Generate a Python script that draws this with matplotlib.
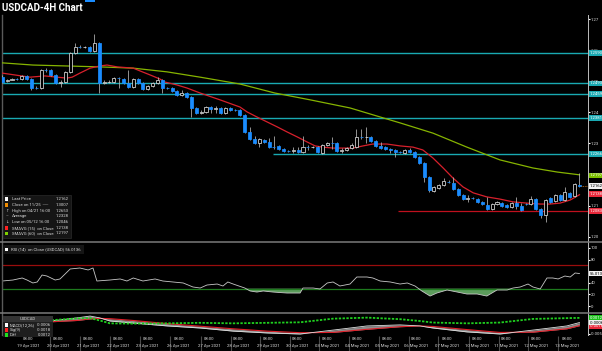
import numpy as np
import matplotlib
matplotlib.use("Agg")
import matplotlib.pyplot as plt
from matplotlib.patches import Rectangle
from matplotlib.lines import Line2D
import matplotlib.transforms as mtrans

plt.rcParams['font.family'] = ['Roboto', 'DejaVu Sans']

# ---------------- data (4H bars) ----------------
opens = [1.2514, 1.2501, 1.2504, 1.2507, 1.2507, 1.2517, 1.2507, 1.2478, 1.2478, 1.2536,
         1.2536, 1.2520, 1.2494, 1.2497, 1.2530, 1.2591, 1.2610, 1.2610, 1.2610, 1.2597,
         1.2623, 1.2494, 1.2497, 1.2497, 1.2510, 1.2507, 1.2494, 1.2481, 1.2507, 1.2494,
         1.2475, 1.2485, 1.2494, 1.2504, 1.2478, 1.2478, 1.2468, 1.2456, 1.2462, 1.2449,
         1.2414, 1.2398, 1.2401, 1.2417, 1.2411, 1.2414, 1.2398, 1.2414, 1.2407, 1.2407,
         1.2391, 1.2337, 1.2314, 1.2301, 1.2311, 1.2305, 1.2288, 1.2292, 1.2282, 1.2276,
         1.2276, 1.2279, 1.2272, 1.2288, 1.2288, 1.2288, 1.2269, 1.2295, 1.2301, 1.2301,
         1.2276, 1.2279, 1.2285, 1.2288, 1.2321, 1.2321, 1.2321, 1.2308, 1.2292, 1.2288,
         1.2282, 1.2279, 1.2272, 1.2269, 1.2279, 1.2272, 1.2256, 1.2237, 1.2192, 1.2147,
         1.2157, 1.2166, 1.2176, 1.2173, 1.2153, 1.2134, 1.2121, 1.2124, 1.2121, 1.2112,
         1.2102, 1.2089, 1.2105, 1.2108, 1.2102, 1.2095, 1.2108, 1.2099, 1.2105, 1.2105,
         1.2121, 1.2089, 1.2070, 1.2124, 1.2115, 1.2134, 1.2118, 1.2140, 1.2131, 1.2166]
closes = [1.2497, 1.2504, 1.2507, 1.2506, 1.2517, 1.2507, 1.2478, 1.2477, 1.2536, 1.2535,
          1.2520, 1.2494, 1.2497, 1.2530, 1.2591, 1.2610, 1.2609, 1.2611, 1.2597, 1.2623,
          1.2494, 1.2497, 1.2498, 1.2510, 1.2509, 1.2494, 1.2481, 1.2507, 1.2494, 1.2475,
          1.2485, 1.2494, 1.2504, 1.2478, 1.2477, 1.2468, 1.2456, 1.2462, 1.2449, 1.2414,
          1.2398, 1.2401, 1.2417, 1.2411, 1.2414, 1.2398, 1.2414, 1.2407, 1.2406, 1.2391,
          1.2337, 1.2314, 1.2301, 1.2314, 1.2305, 1.2288, 1.2287, 1.2282, 1.2276, 1.2275,
          1.2279, 1.2272, 1.2288, 1.2287, 1.2289, 1.2272, 1.2295, 1.2301, 1.2300, 1.2276,
          1.2279, 1.2285, 1.2295, 1.2321, 1.2320, 1.2322, 1.2308, 1.2292, 1.2285, 1.2282,
          1.2279, 1.2272, 1.2271, 1.2279, 1.2272, 1.2256, 1.2237, 1.2192, 1.2150, 1.2160,
          1.2166, 1.2179, 1.2175, 1.2153, 1.2134, 1.2121, 1.2124, 1.2123, 1.2112, 1.2105,
          1.2089, 1.2105, 1.2112, 1.2099, 1.2095, 1.2108, 1.2099, 1.2086, 1.2104, 1.2121,
          1.2089, 1.2070, 1.2118, 1.2112, 1.2134, 1.2118, 1.2144, 1.2128, 1.2169, 1.2162]
highs = [1.2520, 1.2507, 1.2510, 1.2510, 1.2520, 1.2520, 1.2510, 1.2485, 1.2539, 1.2542,
         1.2539, 1.2523, 1.2504, 1.2533, 1.2594, 1.2623, 1.2616, 1.2613, 1.2613, 1.2653,
         1.2626, 1.2504, 1.2504, 1.2514, 1.2514, 1.2510, 1.2536, 1.2510, 1.2510, 1.2497,
         1.2488, 1.2497, 1.2514, 1.2507, 1.2481, 1.2481, 1.2472, 1.2472, 1.2465, 1.2452,
         1.2417, 1.2407, 1.2420, 1.2420, 1.2420, 1.2417, 1.2417, 1.2417, 1.2411, 1.2411,
         1.2395, 1.2353, 1.2324, 1.2317, 1.2314, 1.2317, 1.2324, 1.2295, 1.2285, 1.2279,
         1.2288, 1.2288, 1.2324, 1.2295, 1.2292, 1.2292, 1.2298, 1.2305, 1.2321, 1.2305,
         1.2285, 1.2288, 1.2301, 1.2346, 1.2346, 1.2353, 1.2324, 1.2311, 1.2305, 1.2292,
         1.2285, 1.2282, 1.2276, 1.2282, 1.2285, 1.2276, 1.2260, 1.2240, 1.2195, 1.2163,
         1.2169, 1.2189, 1.2182, 1.2192, 1.2157, 1.2137, 1.2134, 1.2128, 1.2124, 1.2115,
         1.2128, 1.2108, 1.2115, 1.2112, 1.2105, 1.2112, 1.2128, 1.2108, 1.2108, 1.2131,
         1.2124, 1.2092, 1.2121, 1.2128, 1.2137, 1.2137, 1.2160, 1.2144, 1.2173, 1.2205]
lows = [1.2494, 1.2497, 1.2504, 1.2504, 1.2504, 1.2504, 1.2472, 1.2475, 1.2475, 1.2530,
        1.2517, 1.2491, 1.2481, 1.2494, 1.2526, 1.2587, 1.2607, 1.2607, 1.2594, 1.2594,
        1.2462, 1.2491, 1.2494, 1.2494, 1.2478, 1.2491, 1.2478, 1.2478, 1.2491, 1.2472,
        1.2472, 1.2481, 1.2491, 1.2462, 1.2475, 1.2465, 1.2452, 1.2452, 1.2446, 1.2385,
        1.2395, 1.2395, 1.2398, 1.2398, 1.2398, 1.2395, 1.2395, 1.2404, 1.2404, 1.2388,
        1.2333, 1.2311, 1.2298, 1.2288, 1.2301, 1.2285, 1.2282, 1.2279, 1.2272, 1.2272,
        1.2269, 1.2269, 1.2269, 1.2279, 1.2285, 1.2269, 1.2266, 1.2292, 1.2282, 1.2272,
        1.2269, 1.2276, 1.2282, 1.2285, 1.2314, 1.2301, 1.2305, 1.2288, 1.2282, 1.2279,
        1.2269, 1.2256, 1.2269, 1.2266, 1.2269, 1.2253, 1.2234, 1.2176, 1.2144, 1.2144,
        1.2153, 1.2163, 1.2173, 1.2150, 1.2131, 1.2118, 1.2112, 1.2121, 1.2108, 1.2102,
        1.2086, 1.2086, 1.2102, 1.2095, 1.2092, 1.2092, 1.2089, 1.2083, 1.2102, 1.2102,
        1.2086, 1.2060, 1.2046, 1.2108, 1.2112, 1.2115, 1.2115, 1.2124, 1.2128, 1.2160]

sma15_idx = [0, 5.7, 8.8, 11.3, 13.3, 14.4, 16.0, 18.1, 20.1, 21.6,
             23.7, 27.0, 28.4, 30.5, 32.5, 33.6, 36.0, 38.1, 40.8, 44.9,
             49.0, 50.5, 52.5, 54.6, 56.7, 58.7, 60.8, 62.8, 64.5, 66.1,
             68.2, 70.3, 72.3, 74.4, 76.4, 79.3, 82.0, 84.7, 86.7, 88.8,
             90.9, 92.9, 95.0, 97.1, 99.9, 102.6, 105.3, 108.2, 110.9, 112.9,
             115.0, 117.1, 119.0]
sma15_val = [1.2526, 1.2513, 1.2517, 1.2513, 1.2510, 1.2513, 1.2526, 1.2542, 1.2549, 1.2552,
             1.2546, 1.2542, 1.2533, 1.2520, 1.2507, 1.2497, 1.2488, 1.2478, 1.2462, 1.2440,
             1.2417, 1.2401, 1.2385, 1.2369, 1.2353, 1.2337, 1.2321, 1.2305, 1.2292, 1.2288,
             1.2285, 1.2285, 1.2285, 1.2292, 1.2298, 1.2298, 1.2292, 1.2288, 1.2279, 1.2253,
             1.2221, 1.2189, 1.2160, 1.2141, 1.2128, 1.2121, 1.2112, 1.2108, 1.2105, 1.2105,
             1.2108, 1.2118, 1.2135]
sma60_idx = [0, 6.3, 13.3, 20.2, 27.0, 34.0, 40.8, 49.0, 56.2, 63.5,
             71.7, 77.9, 82.0, 88.8, 95.8, 102.6, 109.4, 114.4, 119.0]
sma60_val = [1.2559, 1.2552, 1.2549, 1.2546, 1.2542, 1.2530, 1.2513, 1.2491, 1.2462, 1.2440,
             1.2414, 1.2385, 1.2366, 1.2333, 1.2288, 1.2247, 1.2221, 1.2208, 1.2199]

cyan_levels = [1.2590, 1.2493, 1.2459, 1.2381, 1.2266]
cyan_start = [0, 0, 0, 0, 56.4]
red_level = 1.2083
red_start = 82.0

rsi_idx = [0, 2.2, 4.1, 5.1, 6.3, 7.2, 8.2, 9.2, 10.9, 11.9,
           14.0, 16.0, 17.7, 18.7, 19.5, 22.2, 24.3, 25.7, 27.0, 29.0,
           31.5, 33.1, 35.2, 37.3, 39.3, 40.8, 42.2, 44.3, 45.5, 46.5,
           47.6, 50.0, 51.1, 52.5, 53.8, 55.8, 58.7, 61.4, 62.0, 64.1,
           65.5, 67.0, 68.2, 69.6, 71.7, 73.1, 75.2, 76.4, 77.9, 80.0,
           82.0, 83.5, 85.1, 86.5, 88.2, 89.6, 91.7, 93.8, 95.8, 97.9,
           99.9, 102.0, 104.1, 105.3, 106.8, 108.4, 109.4, 110.9, 112.3, 113.5,
           114.6, 116.0, 117.1, 118.1, 119.0]
rsi_val = [43.1, 44.8, 48.3, 44.8, 39.7, 41.4, 53.4, 51.7, 44.8, 46.6,
           63.8, 65.5, 62.1, 65.5, 43.1, 44.8, 46.6, 43.1, 48.3, 43.1,
           46.6, 43.1, 41.4, 39.7, 32.8, 31.0, 36.2, 37.9, 34.5, 41.4,
           37.9, 31.0, 25.9, 24.1, 25.9, 24.1, 22.4, 22.4, 31.0, 31.0,
           29.3, 39.7, 41.4, 34.5, 37.9, 50.0, 50.0, 48.3, 43.1, 41.4,
           37.9, 39.7, 34.5, 25.9, 17.2, 22.4, 27.6, 24.1, 20.7, 20.7,
           17.2, 27.6, 27.6, 31.0, 32.8, 37.9, 32.8, 29.3, 48.3, 48.3,
           46.6, 51.7, 50.0, 56.9, 56.0]

macd_idx = [0, 10, 15.4, 18.1, 20.1, 22.2, 27, 34, 40.8, 47.6, 54.6, 61.4, 68.2, 75.2,
            82, 86.1, 88.8, 95.8, 102.6, 109.4, 116.4, 119]
macd_val = [-0.0004, 0.0000, 0.0012, 0.0019, 0.0012, 0.0000, -0.0008, -0.0019, -0.0027,
            -0.0039, -0.0046, -0.0050, -0.0035, -0.0019, -0.0015, -0.0019, -0.0027,
            -0.0042, -0.0050, -0.0035, -0.0019, -0.0006]
sig_val = [-0.0004, -0.0003, 0.0002, 0.0008, 0.0010, 0.0009, 0.0002, -0.0010, -0.0020,
           -0.0030, -0.0039, -0.0045, -0.0044, -0.0032, -0.0022, -0.0019, -0.0021,
           -0.0033, -0.0044, -0.0043, -0.0030, -0.0018]

day_pos = [5.3, 11.5, 17.7, 23.9, 30.0, 36.4, 42.6, 48.6, 54.8, 60.8,
           66.9, 73.1, 79.3, 85.3, 91.7, 97.9, 103.9, 110.0, 116.4]
day_labels = ["19 Apr 2021", "20 Apr 2021", "21 Apr 2021", "22 Apr 2021", "23 Apr 2021",
              "26 Apr 2021", "27 Apr 2021", "28 Apr 2021", "29 Apr 2021", "30 Apr 2021",
              "03 May 2021", "04 May 2021", "05 May 2021", "06 May 2021", "07 May 2021",
              "10 May 2021", "11 May 2021", "12 May 2021", "13 May 2021"]

price_ticks = [1.20, 1.21, 1.22, 1.23, 1.24, 1.25, 1.26, 1.27]
price_hidden = [1.22]          # tick label covered by the SMA(60) tag
rsi_ticks = [0, 20, 40, 60, 80, 100]
rsi_hidden = [60]              # tick label covered by the RSI value tag

legend_rows = [("Last Price", "1.2162"), ("Close on 11/25  -----", "1.3007"),
               ("High on 04/21 16:00", "1.2653"), ("Average", "1.2328"),
               ("Low on 05/12 16:00", "1.2046"), ("SMAVG (15)  on Close", "1.2138"),
               ("SMAVG (60)  on Close", "1.2197")]
last_price, sma15_last, sma60_last = 1.2162, 1.2138, 1.2197
rsi_last = 56.0136
macd_last, sig_last, diff_last = -0.0006, -0.0018, 0.0012

# ---------------- figure ----------------
W, H = 602, 351
fig = plt.figure(figsize=(W / 100, H / 100), dpi=100, facecolor='black')


def rect(x0, y0, x1, y1):
    return [x0 / W, 1 - y1 / H, (x1 - x0) / W, (y1 - y0) / H]


XL, XR = 1.8, 587.5
BAR0, BARW = 2.3, 4.85
xlim = ((XL - BAR0) / BARW, (XR - BAR0) / BARW)

ax_p = fig.add_axes(rect(XL, 15, XR, 241))
ax_r = fig.add_axes(rect(XL, 242, XR, 312))
ax_m = fig.add_axes(rect(XL, 313, XR, 335))
ax_d = fig.add_axes(rect(XL, 335, XR, 351))

GRAY_TXT = '#d8d8d8'
FS = 3.1
for ax in (ax_p, ax_r, ax_m, ax_d):
    ax.set_facecolor('black')
    ax.set_xlim(*xlim)
    for s in ('top', 'bottom'):
        ax.spines[s].set_visible(False)
    ax.spines['left'].set_color('#5a5a5a')
    ax.spines['left'].set_linewidth(1.0)
    ax.spines['right'].set_color('#bdbdbd')
    ax.spines['right'].set_linewidth(0.7)
    ax.tick_params(axis='x', bottom=False, labelbottom=False)
    ax.yaxis.tick_right()
    ax.tick_params(axis='y', right=True, left=False, length=1.6, width=0.8, color='white',
                   labelsize=FS, labelcolor=GRAY_TXT, pad=0.8)
ax_d.axis('off')

# ---------------- price panel ----------------
ax_p.set_ylim(1.19862, 1.27129)
ax_p.set_yticks(price_ticks)
ax_p.set_yticklabels(["" if t in price_hidden else f"{t:.2f}" for t in price_ticks])

for lvl, st in zip(cyan_levels, cyan_start):
    ax_p.hlines(lvl, st - 0.5, xlim[1], color='#19a9b2', lw=1.0, zorder=2)
ax_p.hlines(red_level, red_start - 0.5, xlim[1], color='#c0101e', lw=0.9, zorder=2)

ax_p.plot(sma60_idx, sma60_val, color='#86b400', lw=0.9, zorder=3)
ax_p.plot(sma15_idx, sma15_val, color='#d8202c', lw=0.9, zorder=3)

BODY = 0.62
for i, (o, c, h, l) in enumerate(zip(opens, closes, highs, lows)):
    ax_p.vlines(i, l, h, color='#b8b8b8', lw=0.55, zorder=4)
    if c >= o:
        ax_p.add_patch(Rectangle((i - BODY / 2, o), BODY, c - o, facecolor='black',
                                 edgecolor='#dcdcdc', lw=0.55, zorder=5))
    else:
        ax_p.add_patch(Rectangle((i - BODY / 2, c), BODY, o - c, facecolor='#1a8cff',
                                 edgecolor='#1a8cff', lw=0.55, zorder=5))

# last price dotted marker
ax_p.hlines(last_price, len(closes) - 1 + 0.4, xlim[1], color='#c87a2a', lw=0.6,
            linestyles=(0, (1, 1)), zorder=6)

blend_p = mtrans.blended_transform_factory(ax_p.transAxes, ax_p.transData)
blend_r = mtrans.blended_transform_factory(ax_r.transAxes, ax_r.transData)
blend_m = mtrans.blended_transform_factory(ax_m.transAxes, ax_m.transData)


def tag(tr, ax, y, s, bg, fg='white'):
    ax.text(1.004, y, s, transform=tr, fontsize=FS, color=fg, va='center', ha='left',
            bbox=dict(boxstyle='square,pad=0.2', fc=bg, ec='none'), clip_on=False, zorder=10)


for lvl in cyan_levels:
    tag(blend_p, ax_p, lvl, f"{lvl:.4f}", '#19a9b2')
tag(blend_p, ax_p, sma60_last, f"{sma60_last:.4f}", '#7cc000')
tag(blend_p, ax_p, last_price, f"{last_price:.4f}", '#f2f2f2', 'black')
tag(blend_p, ax_p, sma15_last, f"{sma15_last:.4f}", '#e8283a')
tag(blend_p, ax_p, red_level, f"{red_level:.4f}", '#e8283a')

# ---------------- RSI panel ----------------
ax_r.set_ylim(-10.3, 110.3)
ax_r.set_yticks(rsi_ticks)
ax_r.set_yticklabels(["" if t in rsi_hidden else str(t) for t in rsi_ticks])
ax_r.axhline(70, color='#9a0d0d', lw=0.9)
ax_r.axhline(30, color='#1e7a1e', lw=0.9)
ri = np.array(rsi_idx)
rv = np.array(rsi_val)
ax_r.fill_between(ri, rv, 30, where=rv < 30, interpolate=True, color='#5c9c5c', lw=0)
ax_r.plot(ri, rv, color='#c8c8c8', lw=0.6)
tag(blend_r, ax_r, rsi_last, f"{rsi_last:.4f}", '#f2f2f2', 'black')

# ---------------- MACD panel ----------------
ax_m.set_ylim(-0.00539, 0.00308)
ax_m.set_yticks([-0.005])
ax_m.set_yticklabels(["-0.005"])
mi = np.array(macd_idx)
mv = np.array(macd_val)
sv = np.array(sig_val)
ax_m.fill_between(mi, mv, sv, color='#8c8c8c', lw=0)
ax_m.plot(mi, sv, color='#e01e28', lw=0.8)
ax_m.plot(mi, mv, color='#e0e0e0', lw=0.6)
ax_m.plot(mi, mv - sv, color='#1fd01f', lw=1.3, linestyle=(0, (1.3, 0.8)))
tag(blend_m, ax_m, diff_last, f"{diff_last:.4f}", '#19c019')
tag(blend_m, ax_m, sig_last, f"{sig_last:.4f}", '#e8283a')
tag(blend_m, ax_m, macd_last, f"{macd_last:.4f}", '#f2f2f2', 'black')

# ---------------- date strip ----------------
ax_d.set_ylim(351, 335)
for p, lab in zip(day_pos, day_labels):
    ax_d.text(p, 339.5, "08:00", fontsize=FS, color=GRAY_TXT, ha='center', va='center')
    ax_d.text(p, 346, lab, fontsize=FS, color=GRAY_TXT, ha='center', va='center')
    if p + 4.5 < xlim[1]:
        ax_d.vlines(p + 4.5, 336, 351, color='#4a4a4a', lw=0.8)


# ---------------- separators & title ----------------
def fline(x0, y0, x1, y1, **kw):
    fig.add_artist(Line2D([x0 / W, x1 / W], [1 - y0 / H, 1 - y1 / H],
                          transform=fig.transFigure, **kw))


fline(0, 241.5, W, 241.5, color='#7a7a7a', lw=1.1)
fline(0, 312.5, W, 312.5, color='#7a7a7a', lw=1.1)
fig.add_artist(Rectangle((85 / W, 1 - 1.5 / H), 10 / W, 1.5 / H, transform=fig.transFigure,
                         facecolor='#1a8cff', edgecolor='none'))


def ftext(x, y, s, **kw):
    fig.text(x / W, 1 - y / H, s, **kw)


ftext(2, 8, "USDCAD-4H Chart", fontsize=7.0, fontweight='bold', color='white',
      ha='left', va='center')

# price legend
fig.add_artist(Rectangle((3 / W, 1 - 238 / H), 68 / W, 43 / H, transform=fig.transFigure,
                         facecolor='#151515', edgecolor='#2a2a2a', lw=0.5))
row_y = [199, 205, 211, 216.5, 222, 228, 233.5]
marks = [('sq', '#ffffff'), ('sq', '#f08c00'), ('↑', '#d0d0d0'), ('–', '#d0d0d0'),
         ('↓', '#d0d0d0'), ('sq', '#ff2020'), ('sq', '#80d000')]
for (lab, val), yy, (mk, col) in zip(legend_rows, row_y, marks):
    if mk == 'sq':
        fig.add_artist(Rectangle((5 / W, 1 - (yy + 1.6) / H), 3.2 / W, 3.2 / H,
                                 transform=fig.transFigure, facecolor=col, edgecolor='none'))
    else:
        ftext(6.6, yy, mk, fontsize=FS, color=col, ha='center', va='center')
    ftext(12, yy, lab, fontsize=FS, color=GRAY_TXT, ha='left', va='center')
    ftext(69, yy, val, fontsize=FS, color=GRAY_TXT, ha='right', va='center')

# RSI legend
fig.add_artist(Rectangle((3 / W, 1 - 253.5 / H), 81 / W, 9 / H, transform=fig.transFigure,
                         facecolor='#151515', edgecolor='none'))
fig.add_artist(Rectangle((5 / W, 1 - 250.7 / H), 3.2 / W, 3.2 / H, transform=fig.transFigure,
                         facecolor='white', edgecolor='none'))
ftext(11, 249, f"RSI (14)  on Close (USDCAD) {rsi_last:.4f}", fontsize=FS, color=GRAY_TXT,
      ha='left', va='center')

# MACD legend
fig.add_artist(Rectangle((3 / W, 1 - 337 / H), 50 / W, 21 / H, transform=fig.transFigure,
                         facecolor='#1e1e1e', edgecolor='none', zorder=5))
fig.add_artist(Rectangle((3 / W, 1 - 322 / H), 50 / W, 6 / H, transform=fig.transFigure,
                         facecolor='#333333', edgecolor='none', zorder=5))
ftext(28, 319, "USDCAD", fontsize=FS, color=GRAY_TXT, ha='center', va='center', zorder=6)
mrows = [("MACD(12,26)", macd_last, 'white'), ("Sig(9)", sig_last, '#ff2020'),
         ("Diff", diff_last, '#20e020')]
for (lab, val, col), yy in zip(mrows, [325, 330, 335]):
    fig.add_artist(Rectangle((5 / W, 1 - (yy + 1.6) / H), 3.2 / W, 3.2 / H,
                             transform=fig.transFigure, facecolor=col, edgecolor='none',
                             zorder=6))
    ftext(10, yy, lab, fontsize=FS, color=GRAY_TXT, ha='left', va='center', zorder=6)
    ftext(51, yy, f"{val:.4f}", fontsize=FS, color=GRAY_TXT, ha='right', va='center', zorder=6)

fig.savefig("out.png", dpi=100, facecolor='black')
